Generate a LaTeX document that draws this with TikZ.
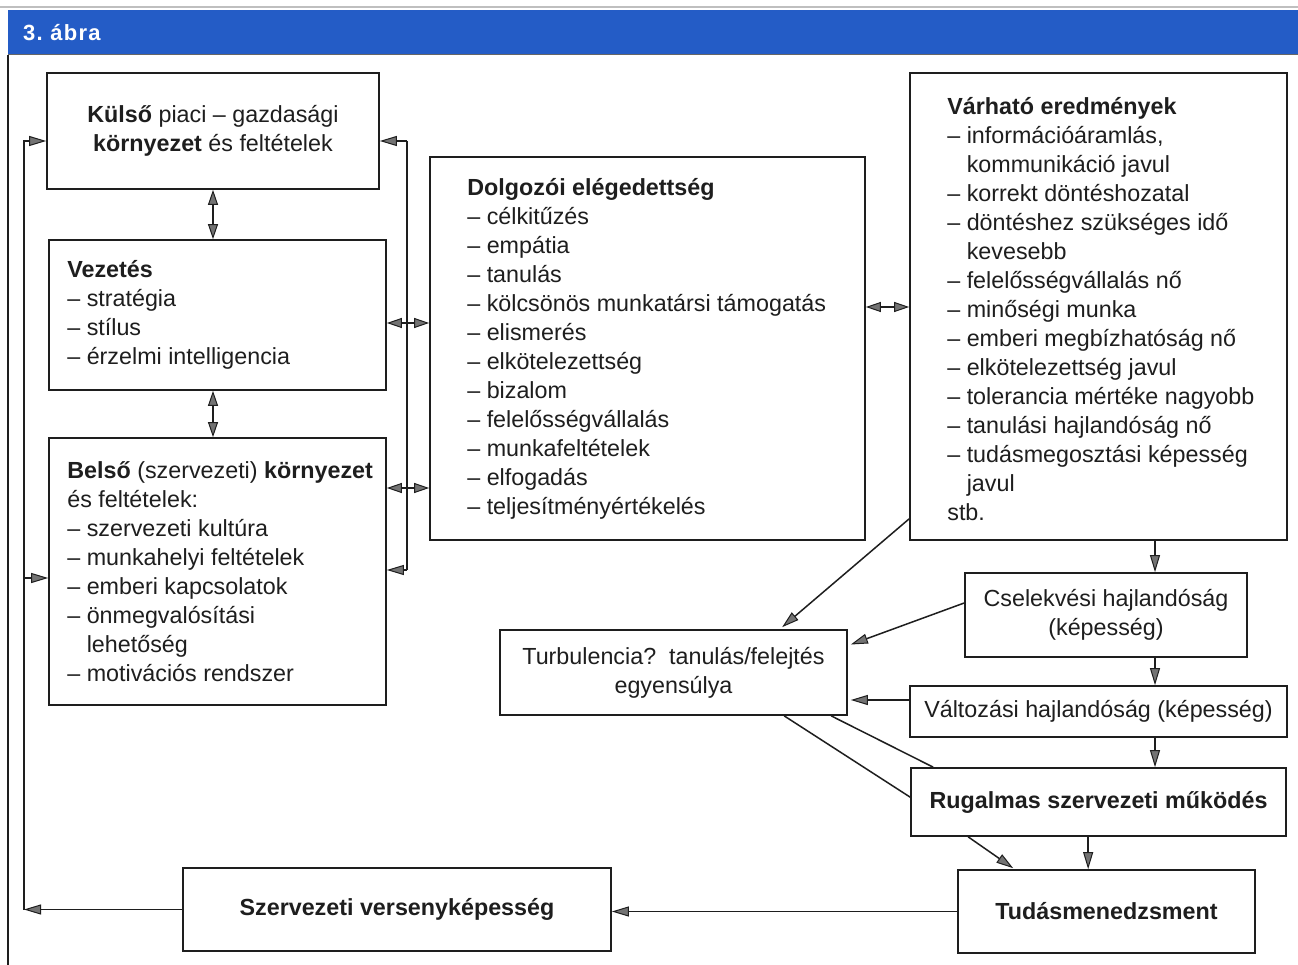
\documentclass[tikz,border=0pt]{standalone}
\usepackage{fontspec}
\setmainfont{Liberation Sans}
\usetikzlibrary{arrows.meta,calc}
\definecolor{hdrblue}{RGB}{36,92,198}
\definecolor{ink}{RGB}{30,30,30}
\newcommand\contind{\hphantom{– }}
\tikzset{
  frame/.style={draw=ink, line width=1.7pt, inner sep=0pt, fill=white},
  txt/.style={align=left, inner sep=0pt, text=ink},
  ctxt/.style={frame, align=center, text=ink},
  ln/.style={draw=ink, line width=1.5pt},
  tip/.style={Triangle[length=17pt,width=10pt,fill=black!55,line width=1pt]},
  arr/.style={ln, -{Triangle[length=17pt,width=10pt,fill=black!55,line width=1pt]}},
  darr/.style={ln, {Triangle[length=15pt,width=10pt,fill=black!55,line width=1pt]}-{Triangle[length=15pt,width=10pt,fill=black!55,line width=1pt]}},
}
\begin{document}
\begin{tikzpicture}[x=1pt,y=-1pt,font=\fontsize{23.3}{29}\selectfont]
\useasboundingbox (0,0) rectangle (1298,965);
\fill[white] (0,0) rectangle (1298,965);

% page header bar and left margin rule
\draw[black!25, line width=1.5pt] (0,7) -- (1298,7);
\fill[hdrblue] (8,10) rectangle (1298,55);
\draw[black!60, line width=1pt] (8,55) -- (1298,55);
\node[anchor=west, text=white, font=\fontsize{22}{26}\bfseries\selectfont\addfontfeature{LetterSpace=6}, inner sep=0pt] (title) at (23,33) {3.\ ábra};
\draw[ink, line width=1.5pt] (8,55) -- (8,965);

% left column
\node[ctxt, minimum width=332, minimum height=116] (kulso) at (213,131)
  {\textbf{Külső} piaci – gazdasági\\\textbf{környezet} és feltételek};
\node[frame, minimum width=337, minimum height=150] (vez) at (217.5,315) {};
\node[txt, anchor=west] (vezT) at ($(vez.west)+(19,0)$)
  {\textbf{Vezetés}\\– stratégia\\– stílus\\– érzelmi intelligencia};
\node[frame, minimum width=337, minimum height=267] (belso) at (217.5,571.5) {};
\node[txt, anchor=west] (belsoT) at ($(belso.west)+(19,0.5)$)
  {\textbf{Belső} (szervezeti) \textbf{környezet}\\és feltételek:\\– szervezeti kultúra\\– munkahelyi feltételek\\– emberi kapcsolatok\\– önmegvalósítási\\\contind lehetőség\\– motivációs rendszer};

% middle column
\node[frame, minimum width=435, minimum height=383] (dolg) at (647.5,348.5) {};
\node[txt, anchor=west] (dolgT) at ($(dolg.west)+(38,0)$)
  {\textbf{Dolgozói elégedettség}\\– célkitűzés\\– empátia\\– tanulás\\– kölcsönös munkatársi támogatás\\– elismerés\\– elkötelezettség\\– bizalom\\– felelősségvállalás\\– munkafeltételek\\– elfogadás\\– teljesítményértékelés};

% right column
\node[frame, minimum width=377, minimum height=467] (varh) at (1098.5,306.5) {};
\node[txt, anchor=west] (varhT) at ($(varh.west)+(38,2.5)$)
  {\textbf{Várható eredmények}\\– információáramlás,\\\contind kommunikáció javul\\– korrekt döntéshozatal\\– döntéshez szükséges idő\\\contind kevesebb\\– felelősségvállalás nő\\– minőségi munka\\– emberi megbízhatóság nő\\– elkötelezettség javul\\– tolerancia mértéke nagyobb\\– tanulási hajlandóság nő\\– tudásmegosztási képesség\\\contind javul\\stb.};

\node[ctxt, minimum width=282, minimum height=84] (csel) at (1106,615)
  {Cselekvési hajlandóság\\(képesség)};
\node[ctxt, minimum width=347, minimum height=85] (turb) at (673.5,672.5)
  {Turbulencia?\ \ tanulás/felejtés\\egyensúlya};
\node[ctxt, minimum width=377, minimum height=51] (valt) at (1098.5,711.5)
  {Változási hajlandóság (képesség)};
\node[ctxt, minimum width=375, minimum height=68, font=\fontsize{23.3}{29}\bfseries\selectfont] (rug) at (1098.5,802)
  {Rugalmas szervezeti működés};
\node[ctxt, minimum width=297, minimum height=83, font=\fontsize{23.3}{29}\bfseries\selectfont] (tud) at (1106.5,911.5)
  {Tudásmenedzsment};
\node[ctxt, minimum width=428, minimum height=83, font=\fontsize{23.3}{29}\bfseries\selectfont] (szv) at (397,909.5)
  {Szervezeti versenyképesség};

% helper levels
\coordinate (yA) at (0,323);
\coordinate (yB) at (0,488);
\coordinate (yC) at (0,307);
\coordinate (xD) at (1155,0);
\coordinate (lc) at (24,909.5);
\coordinate (lk) at (24,141);
\coordinate (lb) at (24,578);
\coordinate (rtop) at (407,141);
\coordinate (rbot) at (407,570);

% vertical links in the left column
\draw[darr] (kulso.south) -- (kulso.south |- vez.north);
\draw[darr] (kulso.south |- vez.south) -- (kulso.south |- belso.north);

% outer feedback loop on the left
\draw[arr] (szv.west |- lc) -- (lc);
\draw[arr] (lc) -- (lk) -- (lk -| kulso.west);
\draw[arr] (lb) -- (lb -| belso.west);

% inner loop on the right of the left column
\draw[ln] (rtop) -- (rbot);
\draw[arr] (rtop) -- (rtop -| kulso.east);
\draw[arr] (rbot) -- (rbot -| belso.east);

% two-way links to the satisfaction box
\draw[darr] (vez.east |- yA) -- (dolg.west |- yA);
\draw[darr] (belso.east |- yB) -- (dolg.west |- yB);
\draw[darr] (dolg.east |- yC) -- (varh.west |- yC);

% chain on the right
\draw[arr] (varh.south -| xD) -- (csel.north -| xD);
\draw[arr] (csel.south -| xD) -- (valt.north -| xD);
\draw[arr] (valt.south -| xD) -- (rug.north -| xD);

% links into the turbulence box
\draw[arr] ($(varh.south west)+(0,-22)$) -- ($(turb.north west)+(283,-2)$);
\draw[arr] ($(csel.west)+(0,-12)$) -- ($(turb.east)+(3,-28)$);
\draw[arr] ($(valt.west)+(0,-11.5)$) -- ($(turb.east)+(3,27.5)$);
\draw[ln] ($(turb.south west)+(285,0)$) -- ($(rug.north west)+(0,30)$);
\draw[ln] ($(turb.south west)+(332,0)$) -- ($(rug.north west)+(23,0)$);

% toward knowledge management and competitiveness
\draw[arr] ($(rug.south west)+(58,0)$) -- ($(tud.north west)+(56,-1)$);
\draw[arr] ($(rug.south west)+(178,0)$) -- ($(tud.north west)+(131,0)$);
\draw[arr] (tud.west) -- (tud.west -| szv.east);
\end{tikzpicture}
\end{document}
